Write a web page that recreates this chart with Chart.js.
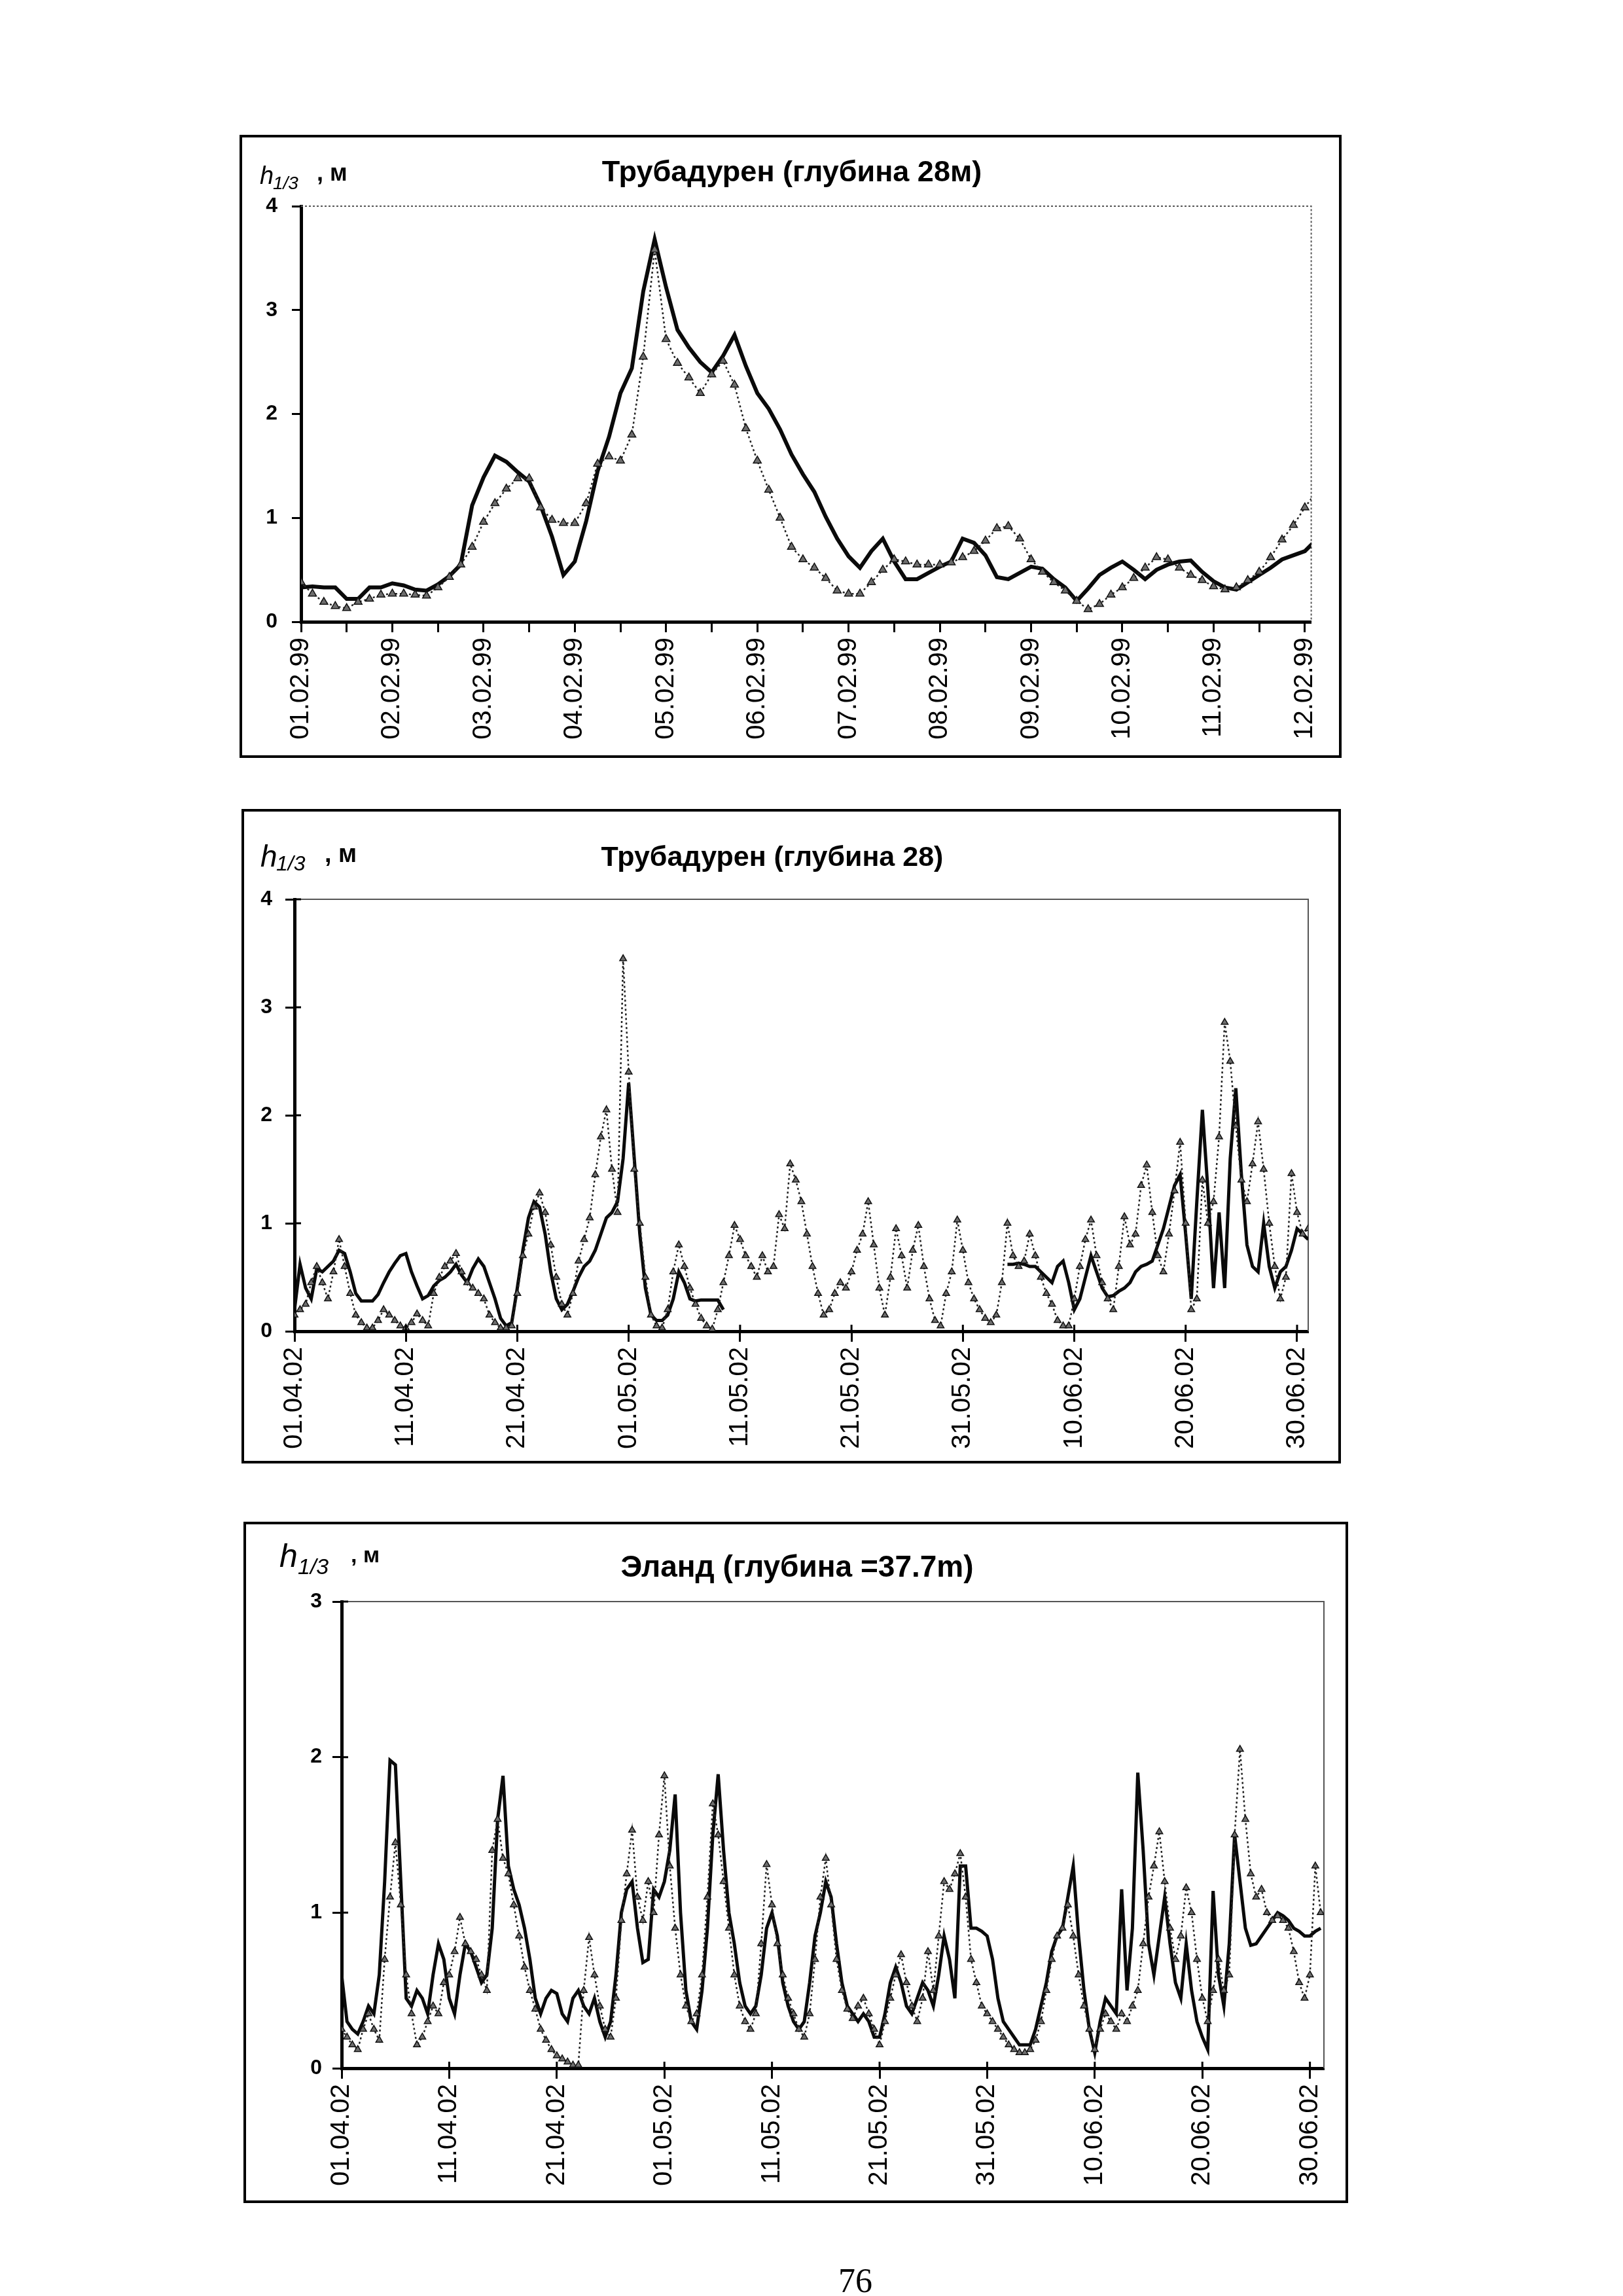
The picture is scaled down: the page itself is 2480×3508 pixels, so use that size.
<!DOCTYPE html>
<html>
<head>
<meta charset="utf-8">
<script src="https://cdn.jsdelivr.net/npm/chart.js@4.4.1/dist/chart.umd.min.js"></script>
<style>
  body { margin: 0; background: #fff; width: 2480px; height: 3508px; position: relative; overflow: hidden; font-family: "Liberation Sans", Arial, sans-serif; }
  .frame { position: absolute; border: 4px solid #000; box-sizing: border-box; pointer-events: none; }
  canvas { position: absolute; }
  .t { position: absolute; white-space: nowrap; color: #000; line-height: 1; }
</style>
</head>
<body>
<script>
// ---- данные ----
// график 1: Трубадурен, 01.02.99 - 12.02.99, шаг 3 часа
const step1 = 0.125;
const ticks1 = ['01.02.99','02.02.99','03.02.99','04.02.99','05.02.99','06.02.99','07.02.99','08.02.99','09.02.99','10.02.99','11.02.99','12.02.99'];
const solid1 = [0.33,0.34,0.33,0.33,0.22,0.22,0.33,0.33, 0.37,0.35,0.31,0.30,0.36,0.44,0.55,1.12,
  1.39,1.60,1.54,1.44,1.35,1.12,0.82,0.45, 0.58,0.97,1.45,1.78,2.20,2.44,3.18,3.68,
  3.22,2.81,2.64,2.50,2.40,2.56,2.76,2.46, 2.20,2.05,1.85,1.61,1.42,1.25,1.01,0.80,
  0.63,0.52,0.68,0.80,0.58,0.41,0.41,0.47, 0.53,0.58,0.80,0.76,0.64,0.43,0.41,0.47,
  0.53,0.51,0.41,0.33,0.20,0.32,0.45,0.52, 0.58,0.50,0.41,0.50,0.55,0.58,0.59,0.48,
  0.39,0.33,0.31,0.38,0.45,0.52,0.60,0.64, 0.68,0.79];
const tri1 = [0.38,0.27,0.19,0.15,0.13,0.19,0.22,0.26, 0.27,0.27,0.26,0.25,0.33,0.43,0.55,0.72,
  0.96,1.14,1.28,1.38,1.38,1.10,0.98,0.95, 0.95,1.14,1.52,1.59,1.55,1.80,2.55,3.58,
  2.72,2.49,2.35,2.20,2.38,2.51,2.28,1.86, 1.55,1.27,1.00,0.72,0.60,0.52,0.42,0.30,
  0.27,0.27,0.38,0.50,0.60,0.58,0.55,0.55, 0.55,0.57,0.62,0.68,0.78,0.90,0.92,0.80,
  0.60,0.48,0.38,0.30,0.20,0.12,0.17,0.26, 0.33,0.42,0.52,0.62,0.60,0.52,0.45,0.40,
  0.34,0.31,0.33,0.40,0.48,0.62,0.79,0.93, 1.10,1.25];

// графики 2 и 3: 01.04.02 - 30.06.02, шаг 12 часов
const step2 = 0.5;
const ticks2 = ['01.04.02','11.04.02','21.04.02','01.05.02','11.05.02','21.05.02','31.05.02','10.06.02','20.06.02','30.06.02'];
const N = null;
const solid2 = [0.2,0.62,0.4,0.3,0.58,0.55,0.6,0.65,0.75,0.72,
  0.55,0.35,0.28,0.28,0.28,0.34,0.45,0.55,0.63,0.7,
  0.72,0.55,0.42,0.3,0.33,0.42,0.47,0.5,0.55,0.62,
  0.52,0.45,0.58,0.67,0.6,0.45,0.3,0.12,0.05,0.08,
  0.4,0.75,1.05,1.2,1.15,0.9,0.55,0.3,0.2,0.25,
  0.37,0.5,0.6,0.65,0.75,0.9,1.05,1.1,1.2,1.6,
  2.3,1.6,0.9,0.4,0.15,0.1,0.1,0.15,0.3,0.55,
  0.45,0.3,0.28,0.29,0.29,0.29,0.29,0.2,N,N,
  N,N,N,N,N,N,N,N,N,N, N,N,N,N,N,N,N,N,N,N,
  N,N,N,N,N,N,N,N,N,N, N,N,N,N,N,N,N,N,N,N,
  N,N,N,N,N,N,N,N,
  0.62,0.62,0.63,0.62,0.6,0.6,0.55,0.5,0.45,0.6,
  0.65,0.45,0.2,0.3,0.5,0.7,0.55,0.4,0.32,0.33,
  0.37,0.4,0.45,0.55,0.6,0.62,0.65,0.8,0.95,1.15,
  1.35,1.45,0.9,0.3,1.2,2.05,1.3,0.4,1.1,0.4,
  1.6,2.25,1.45,0.8,0.6,0.55,1.0,0.6,0.4,0.55,
  0.6,0.75,0.95,0.9,0.85];
const tri2 = [0.15,0.2,0.25,0.45,0.6,0.45,0.3,0.55,0.85,0.6,
  0.35,0.15,0.08,0.03,0.03,0.1,0.2,0.15,0.1,0.05,
  0.03,0.08,0.16,0.1,0.05,0.35,0.5,0.6,0.65,0.72,
  0.55,0.45,0.4,0.35,0.3,0.15,0.08,0.03,0.03,0.05,
  0.35,0.7,0.9,1.15,1.28,1.1,0.8,0.5,0.25,0.15,
  0.35,0.65,0.85,1.05,1.45,1.8,2.05,1.5,1.1,3.45,
  2.4,1.5,1.0,0.5,0.15,0.05,0.03,0.2,0.55,0.8,
  0.6,0.4,0.25,0.12,0.05,0.02,0.2,0.45,0.7,0.98,
  0.85,0.7,0.6,0.5,0.7,0.55,0.6,1.08,0.95,1.55,
  1.4,1.2,0.9,0.6,0.35,0.15,0.2,0.35,0.45,0.4,
  0.55,0.75,0.9,1.2,0.8,0.4,0.15,0.5,0.95,0.7,
  0.4,0.75,0.98,0.6,0.3,0.1,0.05,0.35,0.55,1.03,
  0.75,0.45,0.3,0.2,0.12,0.08,0.15,0.45,1.0,0.7,
  0.6,0.65,0.9,0.7,0.5,0.35,0.25,0.1,0.05,0.05,
  0.3,0.6,0.85,1.03,0.7,0.45,0.3,0.2,0.6,1.06,
  0.8,0.9,1.35,1.54,1.1,0.7,0.55,0.9,1.3,1.75,
  1.0,0.2,0.3,1.4,1.0,1.2,1.8,2.86,2.5,1.9,
  1.4,1.2,1.55,1.94,1.5,1.0,0.6,0.3,0.5,1.46,
  1.1,0.9,0.95];

const solid3 = [0.6,0.3,0.25,0.22,0.3,0.4,0.35,0.6,1.2,1.98,
  1.95,1.2,0.45,0.4,0.5,0.45,0.35,0.6,0.8,0.7,
  0.45,0.35,0.6,0.8,0.75,0.65,0.55,0.6,0.9,1.6,
  1.88,1.3,1.15,1.05,0.9,0.7,0.45,0.35,0.45,0.5,
  0.48,0.35,0.3,0.45,0.5,0.4,0.35,0.45,0.3,0.2,
  0.3,0.6,1.0,1.15,1.2,0.9,0.68,0.7,1.15,1.1,
  1.2,1.4,1.76,1.0,0.5,0.3,0.25,0.5,0.9,1.5,
  1.89,1.4,1.0,0.8,0.55,0.4,0.35,0.4,0.6,0.9,
  1.0,0.85,0.55,0.4,0.3,0.25,0.3,0.55,0.85,1.0,
  1.2,1.1,0.8,0.55,0.4,0.35,0.3,0.35,0.3,0.2,
  0.2,0.35,0.55,0.65,0.55,0.4,0.35,0.45,0.55,0.5,
  0.4,0.6,0.85,0.7,0.45,1.3,1.3,0.9,0.9,0.88,
  0.85,0.7,0.45,0.3,0.25,0.2,0.15,0.15,0.15,0.25,
  0.4,0.55,0.75,0.85,0.9,1.1,1.3,0.85,0.5,0.25,
  0.1,0.3,0.45,0.4,0.35,1.15,0.5,0.9,1.9,1.4,
  0.8,0.6,0.85,1.1,0.8,0.55,0.45,0.8,0.5,0.3,
  0.2,0.12,1.14,0.6,0.4,0.8,1.5,1.2,0.9,0.79,
  0.8,0.85,0.9,0.95,1.0,0.98,0.95,0.9,0.88,0.85,
  0.85,0.88,0.9];
const tri3 = [0.25,0.2,0.15,0.12,0.25,0.35,0.25,0.18,0.7,1.1,
  1.45,1.05,0.6,0.35,0.15,0.2,0.3,0.4,0.35,0.55,
  0.6,0.75,0.97,0.8,0.75,0.7,0.6,0.5,1.4,1.6,
  1.35,1.25,1.05,0.85,0.65,0.5,0.38,0.25,0.18,0.12,
  0.08,0.06,0.04,0.02,0.02,0.5,0.84,0.6,0.4,0.25,
  0.2,0.45,0.95,1.25,1.53,1.1,0.95,1.2,1.0,1.5,
  1.88,1.3,0.9,0.6,0.4,0.3,0.35,0.6,1.1,1.7,
  1.5,1.2,0.9,0.6,0.4,0.3,0.25,0.35,0.8,1.31,
  1.05,0.8,0.6,0.45,0.35,0.25,0.2,0.35,0.7,1.1,
  1.35,1.05,0.7,0.5,0.38,0.32,0.4,0.45,0.35,0.25,
  0.15,0.3,0.45,0.6,0.73,0.55,0.4,0.3,0.45,0.75,
  0.5,0.85,1.2,1.15,1.25,1.38,1.1,0.7,0.55,0.4,
  0.35,0.3,0.25,0.2,0.15,0.12,0.1,0.1,0.12,0.18,
  0.3,0.5,0.7,0.85,0.9,1.05,0.85,0.6,0.4,0.25,
  0.12,0.25,0.35,0.3,0.25,0.35,0.3,0.4,0.5,0.8,
  1.1,1.3,1.52,1.2,0.9,0.7,0.85,1.16,1.0,0.7,
  0.45,0.3,0.5,0.7,0.5,0.6,1.5,2.05,1.6,1.25,
  1.1,1.15,1.0,0.95,0.98,0.95,0.9,0.75,0.55,0.45,
  0.6,1.3,1.0];

const FONT = '"Liberation Sans", Arial, sans-serif';

function pts(arr, step) {
  return arr.map((v, i) => ({ x: i * step, y: v }));
}

// верхняя и правая рамка области построения + штрихи, пересекающие оси
const plotBorder = {
  id: 'plotBorder',
  beforeDatasetsDraw(chart, args, opts) {
    const a = chart.chartArea, ctx = chart.ctx;
    ctx.save();
    ctx.strokeStyle = opts.color;
    ctx.lineWidth = opts.width;
    ctx.setLineDash(opts.dash);
    ctx.beginPath();
    ctx.moveTo(a.left, a.top);
    ctx.lineTo(a.right, a.top);
    ctx.lineTo(a.right, a.bottom);
    ctx.stroke();
    ctx.restore();
  },
  afterDraw(chart, args, opts) {
    if (!opts.cross) return;
    const a = chart.chartArea, ctx = chart.ctx;
    const sx = chart.scales.x, sy = chart.scales.y;
    ctx.save();
    ctx.strokeStyle = '#000';
    ctx.lineWidth = 3;
    ctx.beginPath();
    sx.ticks.forEach(t => {
      const px = sx.getPixelForValue(t.value);
      ctx.moveTo(px, a.bottom);
      ctx.lineTo(px, a.bottom - opts.cross);
    });
    sy.ticks.forEach(t => {
      const py = sy.getPixelForValue(t.value);
      ctx.moveTo(a.left, py);
      ctx.lineTo(a.left + opts.cross, py);
    });
    ctx.stroke();
    ctx.restore();
  }
};

function text(str, left, top, css) {
  let d = document.createElement('div');
  d.className = 't';
  d.textContent = str;
  d.style.left = left + 'px';
  d.style.top = top + 'px';
  d.style.cssText += css;
  document.body.appendChild(d);
}

function title(str, cx, cy, size) {
  let d = document.createElement('div');
  d.className = 't';
  d.textContent = str;
  d.style.cssText += 'left:' + cx + 'px;top:' + cy + 'px;transform:translate(-50%,-50%);font:bold ' + size + 'px ' + FONT + ';';
  document.body.appendChild(d);
}

function makeChart(c) {
  const f = c.frame, p = c.plot;
  let cv = document.createElement('canvas');
  cv.width = f.r - f.l;
  cv.height = f.b - f.t;
  cv.style.left = f.l + 'px';
  cv.style.top = f.t + 'px';
  document.body.appendChild(cv);
  let fr = document.createElement('div');
  fr.className = 'frame';
  fr.style.left = f.l + 'px';
  fr.style.top = f.t + 'px';
  fr.style.width = (f.r - f.l) + 'px';
  fr.style.height = (f.b - f.t) + 'px';
  document.body.appendChild(fr);

  new Chart(cv.getContext('2d'), {
    type: 'line',
    data: {
      datasets: [{
        data: pts(c.tri, c.step),
        borderColor: '#222',
        borderWidth: 2.5,
        borderDash: [3, 4],
        pointStyle: 'triangle',
        pointRadius: c.pr,
        pointBackgroundColor: '#6e6e6e',
        pointBorderColor: '#111',
        pointBorderWidth: 1.5,
        tension: 0
      }, {
        data: pts(c.solid, c.step),
        borderColor: '#0a0a0a',
        borderWidth: c.lw,
        pointRadius: 0,
        tension: 0,
        spanGaps: false
      }]
    },
    options: {
      responsive: false,
      animation: false,
      devicePixelRatio: 1,
      layout: { padding: { top: p.t - f.t, right: f.r - p.r, left: 0, bottom: 0 } },
      plugins: {
        legend: { display: false },
        tooltip: { enabled: false },
        plotBorder: { color: '#555', width: 2, dash: c.dash, cross: c.cross }
      },
      scales: {
        x: {
          type: 'linear',
          min: 0,
          max: c.xmax,
          afterBuildTicks: s => { s.ticks = c.xticks.map(v => ({ value: v })); },
          afterFit: s => { s.height = f.b - p.b; },
          grid: { drawOnChartArea: false, tickLength: 16, tickWidth: 3, tickColor: '#000' },
          border: { color: '#000', width: 5 },
          ticks: {
            autoSkip: false, minRotation: 90, maxRotation: 90, padding: 8, color: '#000',
            font: { family: FONT, size: 40 },
            callback: c.xlabel
          }
        },
        y: {
          min: 0,
          max: c.ymax,
          afterBuildTicks: s => { s.ticks = c.yticks.map(v => ({ value: v })); },
          afterFit: s => { s.width = p.l - f.l; },
          grid: { drawOnChartArea: false, tickLength: 14, tickWidth: 3, tickColor: '#000' },
          border: { color: '#000', width: 5 },
          ticks: { padding: c.ypad, color: '#000', font: { family: FONT, size: 32, weight: 'bold' } }
        }
      }
    },
    plugins: [plotBorder]
  });
}

window.addEventListener('DOMContentLoaded', function () {
  const halfDays = ticks1.flatMap((t, i) => i < ticks1.length - 1 ? [i, i + 0.5] : [i]);
  const tenDays = ticks2.map((t, i) => i * 10);

  // график 1
  makeChart({
    frame: { l: 366, t: 206, r: 2050, b: 1158 },
    plot: { l: 460, t: 315, r: 2026, b: 950 },
    step: step1, solid: solid1, tri: tri1, xmax: 11.07, ymax: 4,
    xticks: halfDays, yticks: [0, 1, 2, 3, 4], ypad: 22, pr: 7, lw: 6, dash: [3, 3], cross: 0,
    xlabel: v => Number.isInteger(v) ? ticks1[v] : ''
  });
  title('Трубадурен (глубина 28м)', 1210, 262, 45);
  text('h', 397, 247, 'font:italic 38px ' + FONT + ';');
  text('1/3', 417, 264, 'font:italic 28px ' + FONT + ';');
  text(', м', 484, 243, 'font:bold 36px ' + FONT + ';');

  // график 2
  makeChart({
    frame: { l: 369, t: 1236, r: 2049, b: 2236 },
    plot: { l: 450, t: 1374, r: 1999, b: 2034 },
    step: step2, solid: solid2, tri: tri2, xmax: 91, ymax: 4,
    xticks: tenDays, yticks: [0, 1, 2, 3, 4], ypad: 20, pr: 6, lw: 5, dash: [], cross: 10,
    xlabel: v => ticks2[v / 10]
  });
  title('Трубадурен (глубина 28)', 1180, 1308, 43);
  text('h', 398, 1281, 'font:italic 46px ' + FONT + ';');
  text('1/3', 422, 1301, 'font:italic 32px ' + FONT + ';');
  text(', м', 496, 1283, 'font:bold 38px ' + FONT + ';');

  // график 3
  makeChart({
    frame: { l: 372, t: 2325, r: 2060, b: 3366 },
    plot: { l: 522, t: 2447, r: 2023, b: 3160 },
    step: step2, solid: solid3, tri: tri3, xmax: 91.3, ymax: 3,
    xticks: tenDays, yticks: [0, 1, 2, 3], ypad: 16, pr: 6, lw: 5, dash: [], cross: 10,
    xlabel: v => ticks2[v / 10]
  });
  title('Эланд (глубина =37.7m)', 1218, 2393, 46);
  text('h', 427, 2348, 'font:italic 50px ' + FONT + ';');
  text('1/3', 455, 2374, 'font:italic 34px ' + FONT + ';');
  text(', м', 536, 2356, 'font:bold 34px ' + FONT + ';');

  // номер страницы
  text('76', 1281, 3455, 'font:52px "Liberation Serif", "Times New Roman", serif;');
});
</script>
</body>
</html>
